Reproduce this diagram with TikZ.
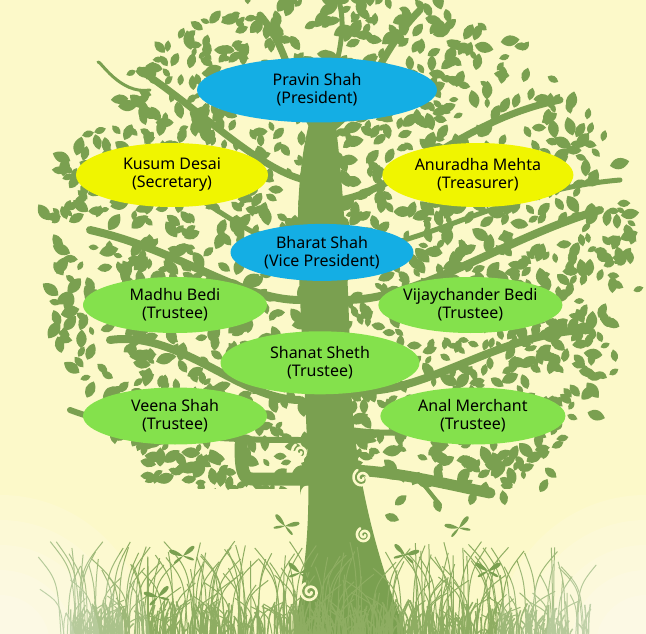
\documentclass[tikz,border=0pt]{standalone}
\usepackage{fontspec}
\setmainfont{Noto Sans}
\usetikzlibrary{shapes.geometric, positioning}
\definecolor{skyblue}{RGB}{20,174,228}
\definecolor{lemon}{RGB}{240,245,0}
\definecolor{leafgreen}{RGB}{132,225,76}
\definecolor{treegreen}{RGB}{122,160,80}
\definecolor{paleyellow}{RGB}{252,249,201}
\newcommand{\butterfly}[3]{\fill[treegreen, shift={(#1,#2)}, rotate=#3, scale=1.7]
  (0,0) .. controls (-8,-10) and (-12,-2) .. (0,0) .. controls (8,-10) and (12,-2) .. (0,0)
  .. controls (-7,7) and (-9,2) .. (0,0) .. controls (7,7) and (9,2) .. (0,0);}

\begin{document}
\begin{tikzpicture}[
  x=1pt, y=-1pt,
  member/.style={ellipse, inner xsep=-12pt, inner ysep=-6pt, align=center,
                 font=\fontsize{16}{18}\selectfont},
  officer/.style={member, fill=skyblue},
  bearer/.style={member, fill=lemon},
  trustee/.style={member, fill=leafgreen},
  branch/.style={treegreen, line cap=round, line join=round},
  blade/.style={treegreen!85!paleyellow, line width=1pt},
  curl/.style={paleyellow, line width=2.6pt, line cap=round}
]
  \fill[paleyellow] (0,0) rectangle (646,634);
  \useasboundingbox (0,0) rectangle (646,634);

  % trunk
  \fill[treegreen] (293,636) .. controls (304,580) and (310,530) .. (308,470)
    .. controls (306,400) and (300,320) .. (298,240)
    .. controls (297,190) and (302,150) .. (310,120)
    -- (335,120)
    .. controls (342,170) and (348,260) .. (350,360)
    .. controls (352,440) and (362,520) .. (407,636) -- cycle;

  % branches
  \foreach \ax/\ay/\bx/\by/\cx/\cy/\dx/\dy/\w in {
      305/180/260/170/200/110/140/70/7, 150/90/120/95/100/60/98/62/3,
      315/130/290/90/290/50/260/15/7, 330/130/370/100/380/50/420/10/7,
      340/200/400/190/460/120/560/100/7, 300/300/240/300/180/250/90/230/8,
      345/300/420/300/500/240/600/210/8, 300/400/240/400/180/330/110/340/8,
      350/390/420/400/500/330/590/330/8, 300/250/240/240/180/170/110/160/5,
      345/250/420/250/500/190/620/180/5, 305/440/250/440/150/440/70/410/6,
      350/430/420/440/500/420/560/400/6, 320/140/320/100/350/50/340/5/5}
    \draw[branch, line width=\w pt] (\ax,\ay) .. controls (\bx,\by) and (\cx,\cy) .. (\dx,\dy);
  \draw[branch, line width=13pt] (309,479) -- (252,479)
    .. controls (243,479) and (241,470) .. (241,445);
  \fill[treegreen] (300,472) -- (300,495) .. controls (301,486) and (305,485) .. (310,485) -- cycle;
  \draw[branch, line width=11pt] (352,470) .. controls (400,472) and (450,485) .. (490,493);
  \draw[branch, line width=4pt] (420,480) -- (440,505);

  % leaves
  \pgfmathsetseed{42}
  \begin{scope}
    \clip (0,0) rectangle (646,488);
    \foreach \i in {1,...,1700}{
      \pgfmathsetmacro\ang{360*rnd}
      \pgfmathsetmacro\rad{sqrt(rnd)}
      \pgfmathsetmacro\lx{340+295*\rad*cos(\ang)}
      \pgfmathsetmacro\ly{265+275*\rad*sin(\ang)}
      \pgfmathsetmacro\lr{360*rnd}
      \pgfmathsetmacro\ls{0.9+1.1*rnd}
      \fill[treegreen, shift={(\lx,\ly)}, rotate=\lr, scale=\ls]
        (0,0) .. controls (3,-4) and (7,-3.5) .. (10,0) .. controls (7,3.5) and (3,4) .. (0,0);
    }
  \end{scope}
  \foreach \lx/\ly/\lr in {228/490/80, 500/478/-30, 520/470/20, 540/492/60, 505/505/100,
      470/505/70, 440/512/110, 395/505/40, 385/515/-20, 535/450/10, 545/468/-40}
    \fill[treegreen, shift={(\lx,\ly)}, rotate=\lr, scale=1.5]
      (0,0) .. controls (3,-4) and (7,-3.5) .. (10,0) .. controls (7,3.5) and (3,4) .. (0,0);

  % grass
  \foreach \i in {1,...,260}{
    \pgfmathsetmacro\gx{60+540*rnd}
    \pgfmathsetmacro\gh{20+75*rnd}
    \pgfmathsetmacro\gb{-30+60*rnd}
    \draw[blade] (\gx,636) .. controls (\gx+0.15*\gb,636-0.7*\gh) .. (\gx+\gb,636-\gh);
  }
  \foreach \i in {1,...,420}{
    \pgfmathsetmacro\gx{70+520*rnd}
    \pgfmathsetmacro\gh{6+30*rnd}
    \pgfmathsetmacro\gb{-10+20*rnd}
    \draw[blade, line width=1.5pt] (\gx,636) .. controls (\gx+0.2*\gb,636-0.6*\gh) .. (\gx+\gb,636-\gh);
  }
  \foreach \r in {150,125,100,75,50}{
    \fill[white, opacity=0.14] (0,645) circle[radius=\r];
    \fill[white, opacity=0.14] (646,645) circle[radius=\r];
  }

  % butterflies
  \butterfly{285}{526}{-20}
  \butterfly{183}{556}{10}
  \butterfly{158}{597}{15}
  \butterfly{300}{573}{-10}
  \butterfly{459}{528}{20}
  \butterfly{405}{555}{-15}
  \butterfly{488}{571}{0}

  % curls
  \foreach \cx/\cy/\k in {310/592/1.3, 364/535/1, 362/478/1.2, 300/452/1.1}
    \draw[curl] plot[variable=\t, domain=0:600, samples=50]
      ({\cx+\k*(1+\t/90)*cos(\t)}, {\cy+\k*(1+\t/90)*sin(\t)});

  % members
  \node[officer, minimum width=240pt, minimum height=65pt] (pravin) at (317,90)
    {Pravin Shah\\(President)};
  \node[officer, minimum width=183pt, minimum height=57pt, below=101pt of pravin, xshift=5pt]
    (bharat) {Bharat Shah\\(Vice President)};
  \node[trustee, minimum width=199pt, minimum height=63pt, below=50pt of bharat, xshift=-2pt]
    (shanat) {Shanat Sheth\\(Trustee)};
  \node[bearer, minimum width=192pt, minimum height=64pt] (kusum) at (172,175)
    {Kusum Desai\\(Secretary)};
  \node[bearer, minimum width=191pt, minimum height=64pt, right=114pt of kusum]
    (anuradha) {Anuradha Mehta\\(Treasurer)};
  \node[trustee, minimum width=184pt, minimum height=56pt] (madhu) at (175,305)
    {Madhu Bedi\\(Trustee)};
  \node[trustee, minimum width=184pt, minimum height=56pt, right=111pt of madhu]
    (vijay) {Vijaychander Bedi\\(Trustee)};
  \node[trustee, minimum width=184pt, minimum height=57pt] (veena) at (175,416)
    {Veena Shah\\(Trustee)};
  \node[trustee, minimum width=185pt, minimum height=57pt, right=113pt of veena]
    (anal) {Anal Merchant\\(Trustee)};
\end{tikzpicture}
\end{document}
